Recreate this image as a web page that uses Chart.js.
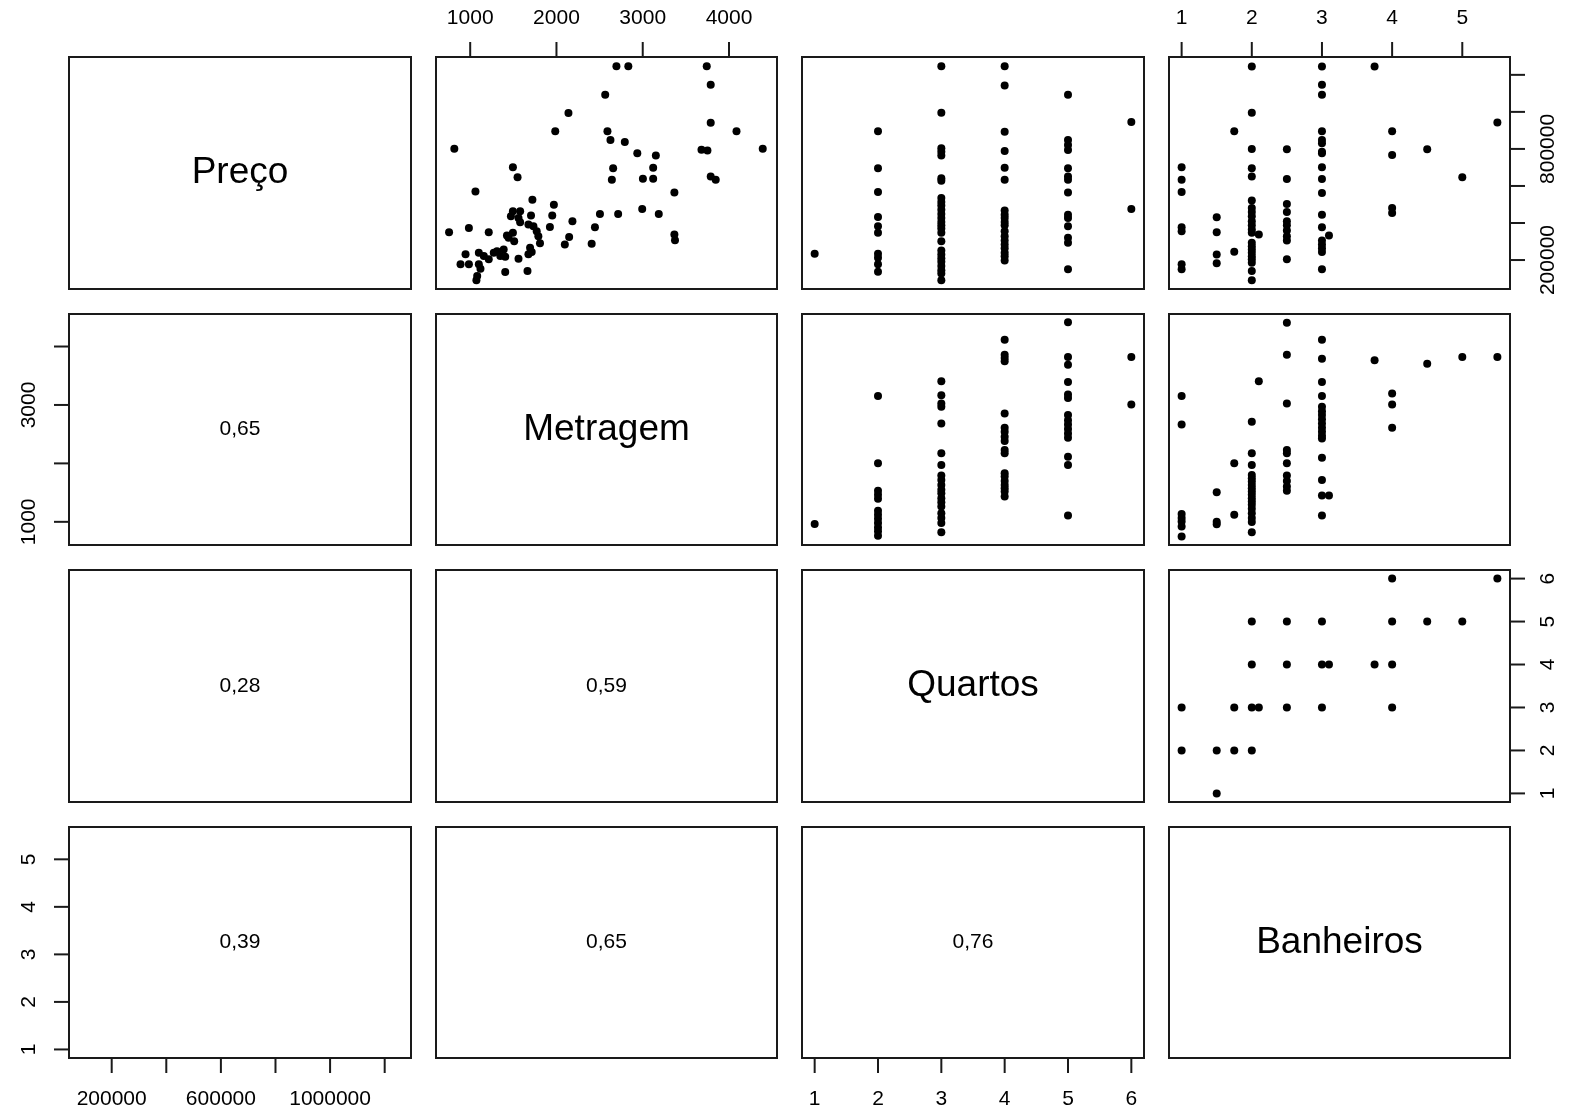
<!DOCTYPE html>
<html lang="pt-BR">
<head>
<meta charset="utf-8">
<title>Matriz de dispersão</title>
<script src="https://cdn.jsdelivr.net/npm/chart.js@4.4.1/dist/chart.umd.min.js"></script>
<style>
  html, body { margin: 0; padding: 0; background: #fff; overflow: hidden; }
  #grade { position: relative; width: 1575px; height: 1112px; }
  #grade canvas { position: absolute; }
</style>
</head>
<body>
<div id="grade"></div>
<script>
// Variáveis e faixas dos dados
const variaveis = ['Preço', 'Metragem', 'Quartos', 'Banheiros'];
const minimos = [90000, 750, 1, 1];
const maximos = [1250000, 4410, 6, 5.5];

// Marcas dos eixos e quais delas recebem rótulo
const ticksPreco = [200000, 400000, 600000, 800000, 1000000, 1200000];
const ticksMetragem = [1000, 2000, 3000, 4000];
const ticksQuartos = [1, 2, 3, 4, 5, 6];
const ticksBanheiros = [1, 2, 3, 4, 5];
const rotulosPrecoBaixo = [200000, 600000, 1000000];
const rotulosPrecoDireita = [200000, 800000];
const rotulosMetragemCima = [1000, 2000, 3000, 4000];
const rotulosMetragemEsquerda = [1000, 3000];

// Correlações (Preço-Metragem, Preço-Quartos, Preço-Banheiros, Metragem-Quartos, Metragem-Banheiros, Quartos-Banheiros)
const correlacoes = [0.65, 0.28, 0.39, 0.59, 0.65, 0.76];

// Pontos [x, y] de cada painel superior
const precoMetragem = [
  [1061, 570000], [1721, 526000], [1970, 499000], [1495, 463000], [1579, 463000], [1472, 436000],
  [1560, 427000], [1705, 440000], [1951, 440000], [2185, 409000], [1579, 404000], [1675, 392000],
  [1733, 383000], [1924, 379000], [755, 350000], [985, 373000], [1215, 350000], [1426, 333000],
  [1495, 347000], [1445, 320000], [1510, 302000], [1771, 356000], [1790, 329000], [2147, 325000],
  [2097, 284000], [1809, 290000], [1694, 266000], [1713, 243000], [1675, 231000], [1311, 248000],
  [1388, 257000], [1349, 222000], [1406, 218000], [1273, 239000], [1560, 207000], [946, 231000],
  [1100, 239000], [1158, 222000], [1215, 204000], [888, 177000], [985, 177000], [1100, 177000],
  [1119, 153000], [1081, 114000], [1406, 136000], [1664, 141000], [1072, 91000],
  [2695, 1247000], [2833, 1247000], [3742, 1247000], [3788, 1146000], [2565, 1093000], [2139, 994000],
  [1986, 896000], [2591, 896000], [3788, 942000], [4087, 896000], [816, 801000], [2626, 848000],
  [2792, 837000], [3681, 796000], [3750, 792000], [4391, 801000], [2937, 776000], [3152, 764000],
  [1495, 701000], [1549, 647000], [2657, 695000], [3121, 699000], [2642, 633000], [3002, 639000],
  [3121, 639000], [3788, 651000], [3846, 633000], [3367, 565000], [2504, 449000], [2715, 449000],
  [2994, 475000], [3186, 449000], [2446, 377000], [2408, 288000], [3367, 338000], [3374, 307000]
];

const precoQuartos = [
  [1, 234000],
  [2, 896000], [2, 696000], [2, 567000], [2, 433000], [2, 383000], [2, 347000], [2, 234000],
  [2, 213000], [2, 177000], [2, 137000],
  [3, 1247000], [3, 995000], [3, 803000], [3, 785000], [3, 764000], [3, 642000], [3, 628000],
  [3, 535000], [3, 513000], [3, 495000], [3, 472000], [3, 449000], [3, 427000], [3, 406000],
  [3, 388000], [3, 370000], [3, 347000], [3, 302000], [3, 252000], [3, 230000], [3, 209000],
  [3, 191000], [3, 168000], [3, 145000], [3, 127000], [3, 91000],
  [4, 1247000], [4, 1143000], [4, 893000], [4, 789000], [4, 699000], [4, 633000], [4, 467000],
  [4, 445000], [4, 427000], [4, 406000], [4, 388000], [4, 356000], [4, 329000], [4, 306000],
  [4, 284000], [4, 263000], [4, 239000], [4, 221000], [4, 198000],
  [5, 1093000], [5, 848000], [5, 821000], [5, 794000], [5, 696000], [5, 651000], [5, 633000],
  [5, 565000], [5, 445000], [5, 427000], [5, 383000], [5, 320000], [5, 293000], [5, 150000],
  [6, 946000], [6, 476000]
];

const precoBanheiros = [
  [1, 701000], [1, 633000], [1, 567000], [1, 377000], [1, 356000], [1, 177000], [1, 150000],
  [1.5, 431000], [1.5, 350000], [1.5, 230000], [1.5, 182000],
  [1.75, 896000], [1.75, 245000],
  [2, 1245000], [2, 995000], [2, 799000], [2, 696000], [2, 651000], [2, 522000], [2, 481000],
  [2, 460000], [2, 436000], [2, 409000], [2, 388000], [2, 365000], [2, 347000], [2.1, 338000],
  [2, 293000], [2, 275000], [2, 257000], [2, 239000], [2, 221000], [2, 204000], [2, 186000],
  [2, 141000], [2, 91000],
  [2.5, 798000], [2.5, 637000], [2.5, 502000], [2.5, 460000], [2.5, 409000], [2.5, 388000],
  [2.5, 359000], [2.5, 329000], [2.5, 306000], [2.5, 204000],
  [3, 1245000], [3, 1147000], [3, 1093000], [3, 896000], [3, 848000], [3, 830000], [3, 785000],
  [3, 776000], [3, 701000], [3, 637000], [3, 562000], [3, 445000], [3, 377000], [3.1, 332000],
  [3, 306000], [3, 284000], [3, 263000], [3, 243000], [3, 150000],
  [3.75, 1245000],
  [4, 896000], [4, 767000], [4, 481000], [4, 454000],
  [4.5, 798000], [5, 647000], [5.5, 943000]
];

const metragemQuartos = [
  [1, 961],
  [2, 3155], [2, 2002], [2, 1530], [2, 1462], [2, 1393], [2, 1189], [2, 1121], [2, 1053],
  [2, 979], [2, 905], [2, 837], [2, 763],
  [3, 3405], [3, 3167], [3, 3025], [3, 2968], [3, 2683], [3, 2172], [3, 1973], [3, 1791],
  [3, 1717], [3, 1632], [3, 1547], [3, 1490], [3, 1405], [3, 1337], [3, 1263], [3, 1149],
  [3, 1064], [3, 979], [3, 820],
  [4, 4116], [4, 3860], [4, 3803], [4, 3746], [4, 2854], [4, 2610], [4, 2541], [4, 2456],
  [4, 2382], [4, 2229], [4, 2172], [4, 1831], [4, 1774], [4, 1700], [4, 1632], [4, 1575],
  [4, 1519], [4, 1433],
  [5, 4417], [5, 3820], [5, 3689], [5, 3394], [5, 3178], [5, 3121], [5, 2826], [5, 2740],
  [5, 2667], [5, 2587], [5, 2513], [5, 2439], [5, 2115], [5, 1973], [5, 1109],
  [6, 3820], [6, 3007]
];

const metragemBanheiros = [
  [1, 3155], [1, 2667], [1, 1132], [1, 1064], [1, 1007], [1, 922], [1, 751],
  [1.5, 1507], [1.5, 1000], [1.5, 960],
  [1.75, 2002], [1.75, 1121],
  [2.1, 3405],
  [2, 2712], [2, 2172], [2, 1973], [2, 1803], [2, 1746], [2, 1689], [2, 1632], [2, 1575],
  [2, 1519], [2, 1462], [2, 1405], [2, 1348], [2, 1291], [2, 1223], [2, 1149], [2, 1064],
  [2, 996], [2, 820],
  [2.5, 4406], [2.5, 3860], [2.5, 3025], [2.5, 2229], [2.5, 2172], [2.5, 2002], [2.5, 1791],
  [2.5, 1700], [2.5, 1604], [2.5, 1530],
  [3, 4116], [3, 3792], [3, 3394], [3, 3155], [3, 2968], [3, 2894], [3, 2826], [3, 2757],
  [3, 2683], [3, 2610], [3, 2541], [3, 2473], [3, 2428], [3, 2098], [3, 1717], [3, 1450],
  [3.1, 1450], [3, 1109],
  [3.75, 3763],
  [4, 3195], [4, 3007], [4, 2610],
  [4.5, 3706], [5, 3820], [5.5, 3820]
];

const quartosBanheiros = [
  [4, 6], [5.5, 6],
  [2, 5], [2.5, 5], [3, 5], [4, 5], [4.5, 5], [5, 5],
  [2, 4], [2.5, 4], [3, 4], [3.1, 4], [3.75, 4], [4, 4],
  [1, 3], [1.75, 3], [2, 3], [2.1, 3], [2.5, 3], [3, 3], [4, 3],
  [1, 2], [1.5, 2], [1.75, 2], [2, 2],
  [1.5, 1]
];

// Geometria da grade
const ESQ = 69, TOPO = 57, LARG = 341.5, ALT = 231.5, VAO = 25, MARGEM = 60;
const FONTE = '"Liberation Sans", Arial, sans-serif';

const pontos = {
  '0-1': precoMetragem, '0-2': precoQuartos, '0-3': precoBanheiros,
  '1-2': metragemQuartos, '1-3': metragemBanheiros, '2-3': quartosBanheiros
};
const corr = {
  '1-0': correlacoes[0], '2-0': correlacoes[1], '3-0': correlacoes[2],
  '2-1': correlacoes[3], '3-1': correlacoes[4], '3-2': correlacoes[5]
};
const marcas = [ticksPreco, ticksMetragem, ticksQuartos, ticksBanheiros];

// faixa com 4% de folga de cada lado, como no R
function faixa(k) {
  const d = (maximos[k] - minimos[k]) * 0.04;
  return { min: minimos[k] - d, max: maximos[k] + d };
}

// Desenha moldura, texto central e eixos no estilo do pairs()
const painelR = {
  id: 'painelR',
  afterDraw(chart, args, opts) {
    const { ctx, chartArea: a } = chart;
    ctx.save();
    ctx.strokeStyle = '#1a1a1a';
    ctx.fillStyle = '#000';
    ctx.lineWidth = 2;
    ctx.strokeRect(a.left, a.top, a.right - a.left, a.bottom - a.top);

    if (opts.texto) {
      ctx.font = opts.tamanho + 'px ' + FONTE;
      ctx.textAlign = 'center';
      ctx.textBaseline = 'middle';
      ctx.fillText(opts.texto, (a.left + a.right) / 2, (a.top + a.bottom) / 2);
    }

    ctx.font = '21px ' + FONTE;
    ctx.textAlign = 'center';
    ctx.textBaseline = 'middle';
    (opts.eixos || []).forEach(e => {
      const horizontal = e.lado === 'cima' || e.lado === 'baixo';
      const escala = horizontal ? chart.scales.x : chart.scales.y;
      e.ticks.forEach(v => {
        const p = escala.getPixelForValue(v);
        ctx.beginPath();
        if (e.lado === 'cima') { ctx.moveTo(p, a.top); ctx.lineTo(p, a.top - 15); }
        if (e.lado === 'baixo') { ctx.moveTo(p, a.bottom); ctx.lineTo(p, a.bottom + 15); }
        if (e.lado === 'esquerda') { ctx.moveTo(a.left, p); ctx.lineTo(a.left - 15, p); }
        if (e.lado === 'direita') { ctx.moveTo(a.right, p); ctx.lineTo(a.right + 15, p); }
        ctx.stroke();
      });
      e.rotulos.forEach(v => {
        const p = escala.getPixelForValue(v);
        const txt = String(v);
        if (horizontal) {
          const y = e.lado === 'cima' ? a.top - 39 : a.bottom + 41;
          ctx.fillText(txt, p, y);
        } else {
          const x = e.lado === 'esquerda' ? a.left - 40 : a.right + 38;
          ctx.save();
          ctx.translate(x, p);
          ctx.rotate(-Math.PI / 2);
          ctx.fillText(txt, 0, 0);
          ctx.restore();
        }
      });
    });
    ctx.restore();
  }
};

function eixosDoPainel(i, j) {
  const eixos = [];
  if (i === 0 && j % 2 === 1) {
    eixos.push({ lado: 'cima', ticks: marcas[j], rotulos: j === 1 ? rotulosMetragemCima : ticksBanheiros });
  }
  if (i === 3 && j % 2 === 0) {
    eixos.push({ lado: 'baixo', ticks: marcas[j], rotulos: j === 0 ? rotulosPrecoBaixo : ticksQuartos });
  }
  if (j === 0 && i % 2 === 1) {
    eixos.push({ lado: 'esquerda', ticks: marcas[i], rotulos: i === 1 ? rotulosMetragemEsquerda : ticksBanheiros });
  }
  if (j === 3 && i % 2 === 0) {
    eixos.push({ lado: 'direita', ticks: marcas[i], rotulos: i === 0 ? rotulosPrecoDireita : ticksQuartos });
  }
  return eixos;
}

const grade = document.getElementById('grade');
for (let i = 0; i < 4; i++) {
  for (let j = 0; j < 4; j++) {
    const x0 = Math.round(ESQ + j * (LARG + VAO));
    const x1 = Math.round(ESQ + j * (LARG + VAO) + LARG);
    const y0 = Math.round(TOPO + i * (ALT + VAO));
    const y1 = Math.round(TOPO + i * (ALT + VAO) + ALT);

    const canvas = document.createElement('canvas');
    canvas.width = x1 - x0 + 2 * MARGEM;
    canvas.height = y1 - y0 + 2 * MARGEM;
    canvas.style.left = (x0 - MARGEM) + 'px';
    canvas.style.top = (y0 - MARGEM) + 'px';
    grade.appendChild(canvas);

    const chave = i + '-' + j;
    let texto = null, tamanho = 21;
    if (i === j) { texto = variaveis[i]; tamanho = 37; }
    if (corr[chave] !== undefined) { texto = corr[chave].toFixed(2).replace('.', ','); }

    const dados = (pontos[chave] || []).map(p => ({ x: p[0], y: p[1] }));

    new Chart(canvas, {
      type: 'scatter',
      data: {
        datasets: [{
          data: dados,
          pointRadius: 4,
          pointHoverRadius: 4,
          pointBorderWidth: 0,
          pointBackgroundColor: '#000'
        }]
      },
      options: {
        responsive: false,
        animation: false,
        events: [],
        layout: { padding: MARGEM },
        plugins: {
          legend: { display: false },
          tooltip: { enabled: false },
          painelR: { texto: texto, tamanho: tamanho, eixos: eixosDoPainel(i, j) }
        },
        scales: {
          x: Object.assign({ type: 'linear', display: false }, faixa(j)),
          y: Object.assign({ type: 'linear', display: false }, faixa(i))
        }
      },
      plugins: [painelR]
    });
  }
}
</script>
</body>
</html>
